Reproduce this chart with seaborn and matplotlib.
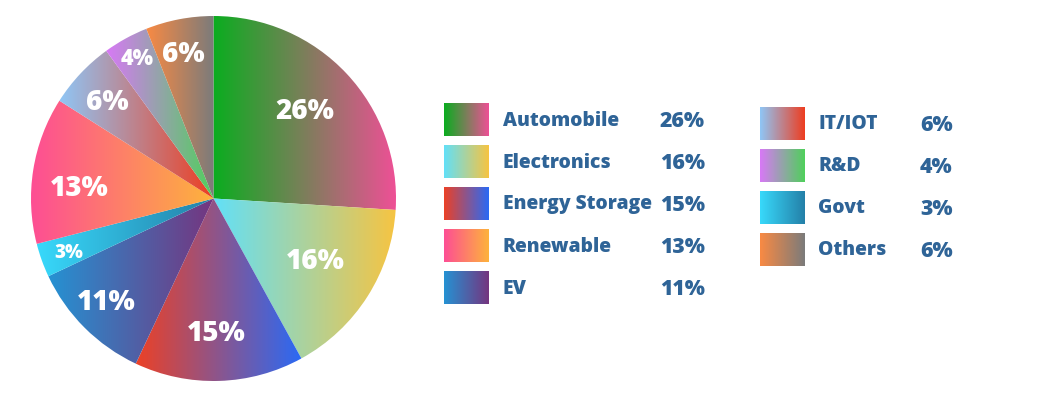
import numpy as np
import matplotlib
matplotlib.use("Agg")
import matplotlib.pyplot as plt
from matplotlib.transforms import offset_copy
import seaborn as sns

# ---------------- data ----------------
categories = ["Automobile", "Electronics", "Energy Storage", "EV", "Govt",
              "Renewable", "IT/IOT", "R&D", "Others"]
shares = [26, 16, 15, 11, 3, 13, 6, 4, 6]
start_colors = ["#0aad1f", "#62e0f8", "#ec4126", "#2592d3", "#38d9fb",
                "#fd4e94", "#8fc6f6", "#d879f6", "#f98a43"]
end_colors = ["#ee5096", "#f7c441", "#2a6af5", "#75357f", "#2480a8",
              "#feb33c", "#ee3d20", "#4fd05b", "#7b7b7b"]
legend_col1 = ["Automobile", "Electronics", "Energy Storage", "Renewable", "EV"]
legend_col2 = ["IT/IOT", "R&D", "Govt", "Others"]

# ---------------- style ----------------
sns.set_theme(style="white")
plt.rcParams["font.family"] = ["Open Sans", "DejaVu Sans"]
text_blue = "#2f6497"
label_dist = [0.70, 0.65, 0.726, 0.81, 0.845, 0.74, 0.795, 0.885, 0.82]
label_dang = [1.5, 1.5, -0.5, -1.6, 0.0, 3.6, 0.5, -0.4, 0.9]
label_size = [20, 20, 20, 20, 13.5, 20, 20, 15.5, 20]

W, H = 1054, 396
fig = plt.figure(figsize=(W / 100, H / 100), dpi=100)
fig.patch.set_facecolor("white")

def cmap_for(i):
    return sns.blend_palette([start_colors[i], end_colors[i]], n_colors=256, as_cmap=True)

grad = np.linspace(0, 1, 256).reshape(1, -1)

# ---------------- pie ----------------
cx, cy, r = 213.5, 198.5, 182.5
pie_ax = fig.add_axes([(cx - r) / W, (H - cy - r) / H, 2 * r / W, 2 * r / H])
wedges, _ = pie_ax.pie(shares, startangle=90, counterclock=False, radius=1,
                       colors=["none"] * len(shares),
                       wedgeprops=dict(linewidth=0, edgecolor="none"))
txt_tr = offset_copy(pie_ax.transData, fig=fig, y=-2.5, units="dots")
for i, w in enumerate(wedges):
    bb = w.get_path().get_extents()
    im = pie_ax.imshow(grad, cmap=cmap_for(i), aspect="auto", interpolation="bilinear",
                       extent=[bb.x0, bb.x1, bb.y0, bb.y1], zorder=1)
    im.set_clip_path(w)
    ang = np.deg2rad((w.theta1 + w.theta2) / 2 + label_dang[i])
    d = label_dist[i]
    pie_ax.text(d * np.cos(ang), d * np.sin(ang), f"{shares[i]}%", color="white",
                fontsize=label_size[i], fontweight="heavy", ha="center", va="center",
                zorder=3, transform=txt_tr)
pie_ax.set_xlim(-1, 1)
pie_ax.set_ylim(-1, 1)
pie_ax.set_aspect("equal")
pie_ax.axis("off")

# ---------------- legend ----------------
lax = fig.add_axes([0, 0, 1, 1], zorder=5)
lax.set_xlim(0, W)
lax.set_ylim(H, 0)
lax.axis("off")
lax.patch.set_alpha(0)

def draw_column(names, sw_x, row0, lab_x, pct_x):
    for k, name in enumerate(names):
        i = categories.index(name)
        yc = row0 + 42 * k
        lax.imshow(grad, cmap=cmap_for(i), aspect="auto", interpolation="bilinear",
                   extent=[sw_x, sw_x + 45, yc + 16.3, yc - 16.3])
        lax.text(lab_x, yc + 6.0, name, color=text_blue, fontsize=13.9,
                 fontweight="heavy", ha="left", va="baseline")
        lax.text(pct_x, yc + 7.5, f"{shares[i]}%", color=text_blue, fontsize=15.3,
                 fontweight="heavy", ha="left", va="baseline")

draw_column(legend_col1, 444, 119.5, 503, 660)
draw_column(legend_col2, 760, 123.3, 818, 920)
lax.set_xlim(0, W)
lax.set_ylim(H, 0)

fig.savefig("out.png", dpi=100, facecolor="white")
